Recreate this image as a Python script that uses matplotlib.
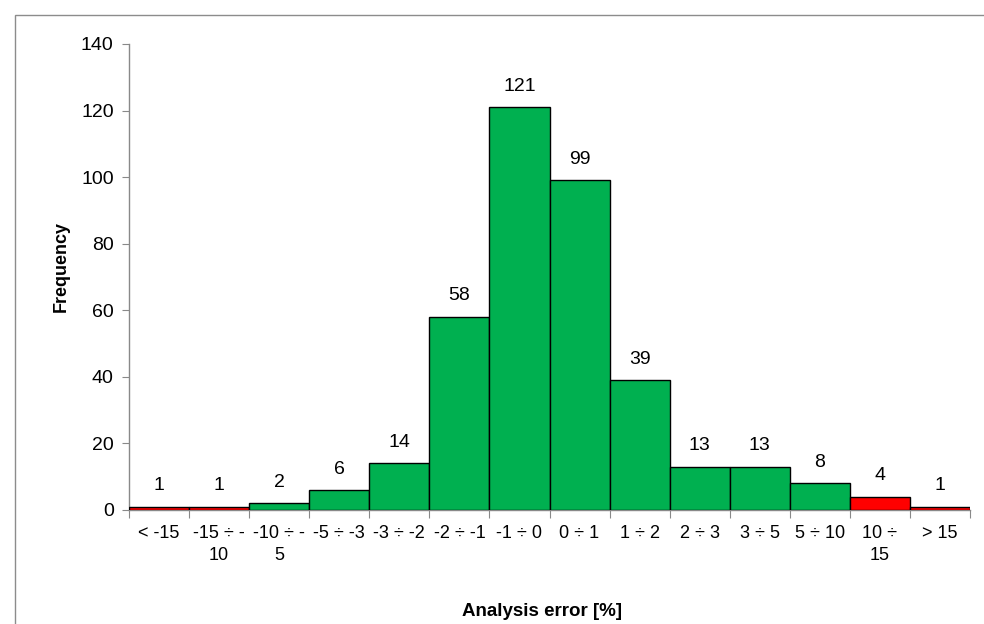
import matplotlib
matplotlib.use("Agg")
import matplotlib.pyplot as plt
from matplotlib.patches import Rectangle
import numpy as np

categories = ["< -15", "-15 ÷ -\n10", "-10 ÷ -\n5", "-5 ÷ -3", "-3 ÷ -2", "-2 ÷ -1",
              "-1 ÷ 0", "0 ÷ 1", "1 ÷ 2", "2 ÷ 3", "3 ÷ 5", "5 ÷ 10", "10 ÷\n15", "> 15"]
frequency = [1, 1, 2, 6, 14, 58, 121, 99, 39, 13, 13, 8, 4, 1]
out_of_range = [True, True, False, False, False, False, False, False, False, False,
                False, False, True, True]
y_ticks = [0, 20, 40, 60, 80, 100, 120, 140]

GREEN = "#00B050"
RED = "#FF0000"
AXIS_GRAY = "#898989"

plt.rcParams["font.family"] = ["Liberation Sans", "DejaVu Sans"]

fig = plt.figure(figsize=(9.84, 6.24), dpi=100)

# outer chart frame (extends past the right and bottom edges)
fig.patches.append(Rectangle((15 / 984, -0.1), 1.2, 1 - 15 / 624 + 0.1,
                             transform=fig.transFigure, fill=False,
                             edgecolor="#8c8c8c", linewidth=1.0))

ax = fig.add_axes([129 / 984, 1 - 510 / 624, (970 - 129) / 984, (510 - 44) / 624])

x = np.arange(len(categories))
colors = [RED if r else GREEN for r in out_of_range]
bars = ax.bar(x, frequency, width=1.0, color=colors, edgecolor="black", linewidth=1.0,
              zorder=3)

for xi, v in zip(x, frequency):
    ax.annotate(str(v), (xi, v), xytext=(0, 9), textcoords="offset points",
                ha="center", va="bottom", fontsize=14)

ax.set_xlim(-0.5, len(categories) - 0.5)
ax.set_ylim(0, 140)
ax.set_yticks(y_ticks)
ax.tick_params(axis="y", direction="out", length=5, color=AXIS_GRAY, labelsize=14, pad=6)

# tick marks on bin boundaries, labels at bin centres
ax.set_xticks(np.arange(len(categories) + 1) - 0.5)
ax.set_xticklabels([])
ax.set_xticks(x, minor=True)
ax.set_xticklabels(categories, minor=True, fontsize=13, linespacing=1.38)
ax.tick_params(axis="x", which="major", direction="out", length=6, color=AXIS_GRAY)
ax.tick_params(axis="x", which="minor", length=0, pad=11)

for side in ["top", "right"]:
    ax.spines[side].set_visible(False)
for side in ["left", "bottom"]:
    ax.spines[side].set_color(AXIS_GRAY)
    ax.spines[side].set_linewidth(1.0)

ax.set_ylabel("Frequency", fontsize=13, fontweight="bold")
ax.yaxis.set_label_coords((70 - 129) / 841, (510 - 267) / 466)
fig.text(542 / 984, 1 - 612 / 624, "Analysis error [%]", ha="center", va="center",
         fontsize=13.5, fontweight="bold")

fig.savefig("out.png", dpi=100)
